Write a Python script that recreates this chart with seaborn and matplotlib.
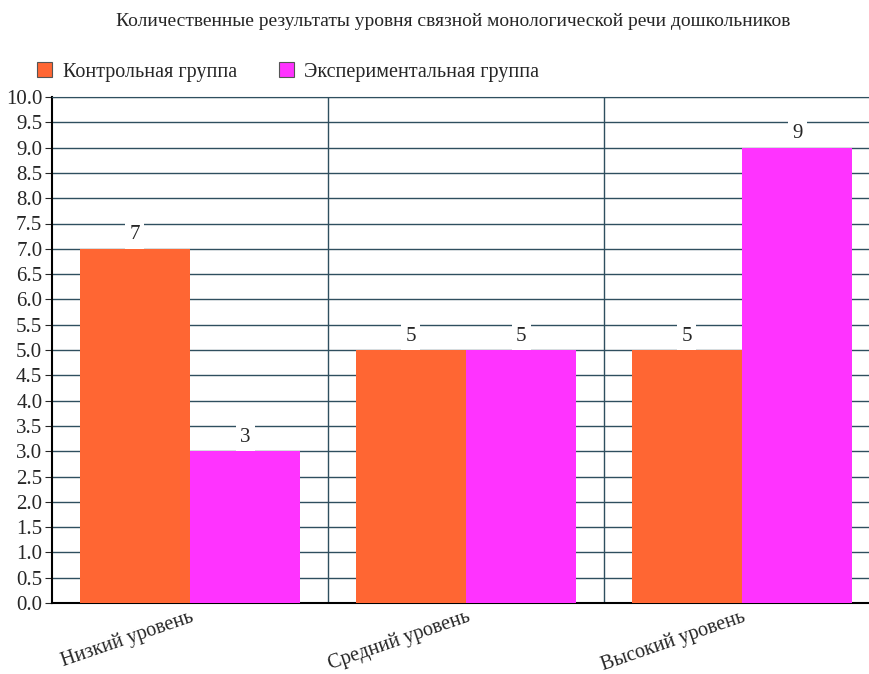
import numpy as np
import pandas as pd
import matplotlib
matplotlib.use('Agg')
import matplotlib.pyplot as plt
import seaborn as sns

# Data
levels = ['Низкий уровень', 'Средний уровень', 'Высокий уровень']
groups = ['Контрольная группа', 'Экспериментальная группа']
control = [7, 5, 5]
experimental = [3, 5, 9]
colors = ['#FF6633', '#FF33FF']

df = pd.DataFrame({
    'level': levels * 2,
    'group': [groups[0]] * 3 + [groups[1]] * 3,
    'value': control + experimental,
})

sns.set_style('white')
plt.rcParams['font.family'] = 'serif'
plt.rcParams['font.serif'] = ['Liberation Serif', 'DejaVu Serif']

fig = plt.figure(figsize=(8.69, 6.74), dpi=100)
ax = fig.add_axes([52 / 869, 1 - 603 / 674, 1 - 52 / 869, (603 - 97) / 674])

sns.barplot(data=df, x='level', y='value', hue='group', palette=colors,
            width=0.8, saturation=1, ax=ax, legend=True, zorder=3,
            linewidth=0, edgecolor='none')

grid_color = '#2F4F5F'
fs = 15
ax.set_ylim(0, 10)
ax.set_yticks(np.arange(0, 10.01, 0.5))
ax.set_yticklabels([f'{v:.1f}' for v in np.arange(0, 10.01, 0.5)], fontsize=fs)
ax.yaxis.grid(True, color=grid_color, linewidth=1)
ax.set_xlim(-0.5, (869 - 52) / 276 - 0.5)
ax.set_xticks([0.5, 1.5], minor=True)
ax.xaxis.grid(True, which='minor', color=grid_color, linewidth=1)
ax.xaxis.grid(False, which='major')
ax.set_axisbelow(True)
ax.tick_params(axis='x', which='major', length=0, pad=3)
ax.tick_params(axis='x', which='minor', length=5, color=grid_color, direction='out')
ax.tick_params(axis='y', length=5, direction='out', left=True, pad=2)
ax.set_xticks(range(3))
ax.set_xticklabels(levels, rotation=19, ha='right', rotation_mode='anchor', fontsize=14.5)
ax.set_xlabel('')
ax.set_ylabel('')

for side in ['left', 'bottom']:
    ax.spines[side].set_color('black')
    ax.spines[side].set_linewidth(1.5)
ax.spines['top'].set_color(grid_color)
ax.spines['right'].set_visible(False)

# value labels
for container in ax.containers:
    for bar in container:
        h = bar.get_height()
        ax.annotate(f'{h:g}', (bar.get_x() + bar.get_width() / 2, h),
                    xytext=(0, 10), textcoords='offset points', ha='center', va='center',
                    fontsize=fs, zorder=5,
                    bbox=dict(boxstyle='square,pad=0.2', fc='white', ec='none'))

handles, labels_ = ax.get_legend_handles_labels()
for hnd in handles:
    hnd.set_edgecolor('#555555')
    hnd.set_linewidth(0.8)
ax.get_legend().remove()
fig.legend(handles, labels_, loc='center left', bbox_to_anchor=(0.043, 1 - 72 / 674),
           ncol=2, frameon=False, fontsize=14.5, handlelength=0.75, handleheight=0.75,
           handletextpad=0.5, borderaxespad=0, borderpad=0, columnspacing=2.1)

fig.text(0.522, 1 - 22 / 674, 'Количественные результаты уровня связной монологической речи дошкольников',
         ha='center', va='center', fontsize=14)

fig.savefig('out.png', dpi=100, facecolor='white')
